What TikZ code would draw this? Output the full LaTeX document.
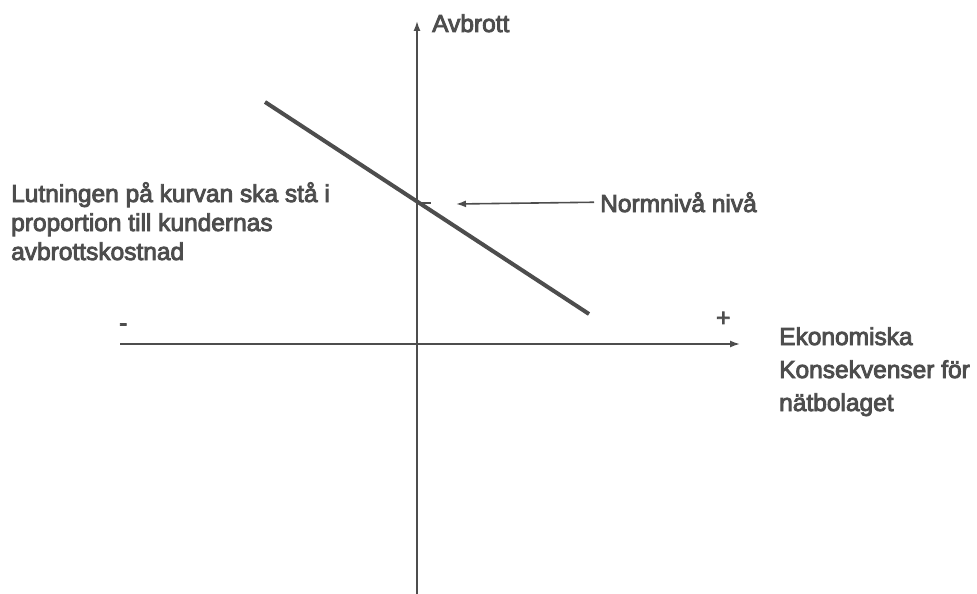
\documentclass[tikz,border=0pt]{standalone}
\usepackage{fontspec}
\setmainfont[FakeBold=3.5]{Liberation Sans}
\usetikzlibrary{positioning,arrows.meta}
\definecolor{axisgray}{HTML}{4D4D4D}

\begin{document}
\begin{tikzpicture}[
  x=1pt,y=-1pt,
  font=\fontsize{24.5}{29}\selectfont,
  lbl/.style={inner sep=0pt,text=axisgray,align=left},
  axis/.style={draw=axisgray,line width=1.6pt},
  >={Latex[length=10pt,width=7pt]}]
\useasboundingbox (0,0) rectangle (977,594);
% axes
\coordinate (xmin) at (120,344);
\coordinate (xmax) at (740,344);
\coordinate (ymin) at (417,594);
\coordinate (ymax) at (417,21);
\draw[axis,->] (xmin) -- (xmax);
\draw[axis,->] (ymin) -- (ymax);
\node[lbl,anchor=base west] (ylbl) at (432,32) {Avbrott};
\node[lbl,anchor=base west] (minus) at (119,331) {-};
\node[lbl,anchor=base west] (plus) at (716,326) {+};
\node[lbl,anchor=base west,font=\fontsize{24.5}{33}\selectfont] (xlbl) at (779,411)
  {Ekonomiska\\Konsekvenser för\\nätbolaget};
% slope line and norm level
\coordinate (slopeA) at (265,102);
\coordinate (slopeB) at (589,314);
\coordinate (norm) at (417,203);
\coordinate (normtick) at (431,203);
\coordinate (normhead) at (456,204);
\draw[draw=axisgray,line width=4pt] (slopeA) -- (slopeB);
\draw[axis] (norm) -- (normtick);
\node[lbl,anchor=base west] (normlbl) at (600,212) {Normnivå nivå};
\draw[axis,->] ([xshift=-6pt]normlbl.west) -- (normhead);
\node[lbl,anchor=base west] (slopelbl) at (11,260)
  {Lutningen på kurvan ska stå i\\proportion till kundernas\\avbrottskostnad};
\end{tikzpicture}
\end{document}
